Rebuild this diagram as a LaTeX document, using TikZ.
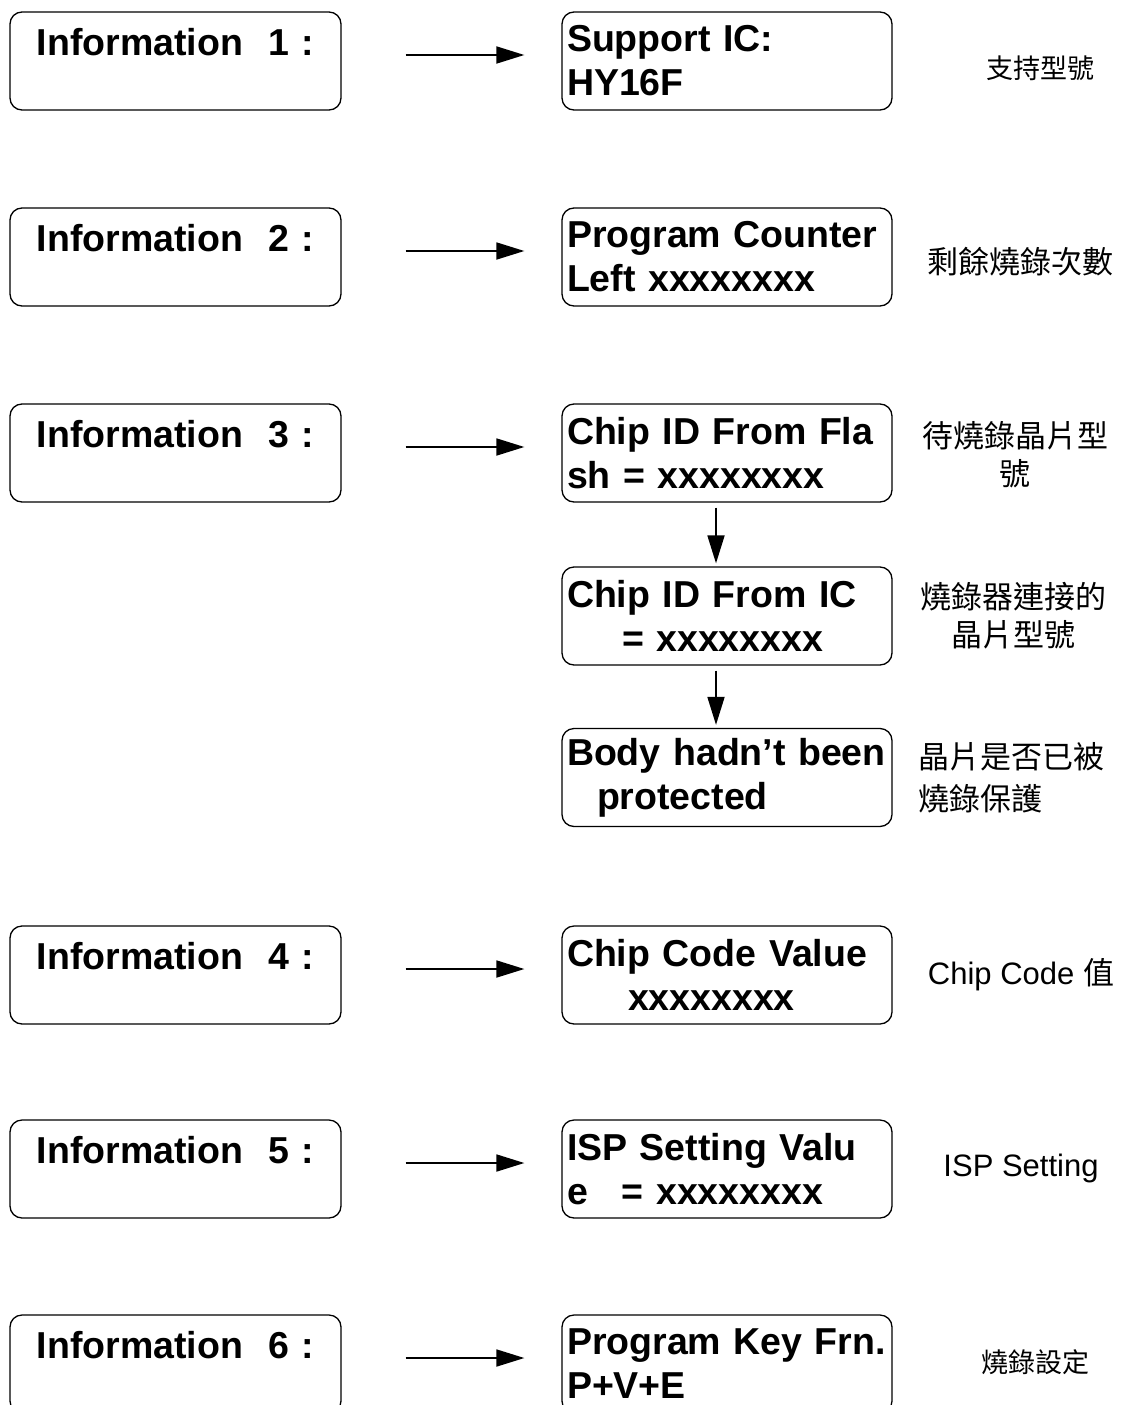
\documentclass[tikz,border=0pt]{standalone}
\usepackage{fontspec}
\setmainfont{Liberation Sans}
\newfontfamily\cjk{Noto Sans CJK TC}
\usepackage{tikz}
\usetikzlibrary{arrows.meta, positioning}
\tikzstyle{infobox} = [rectangle, rounded corners=12pt, minimum width=331pt, minimum height=98pt, inner xsep=5pt, text width=321pt, align=center, draw=black, line width=1.3pt, font=\bfseries\fontsize{37.5}{44}\selectfont]
\tikzstyle{valbox} = [rectangle, rounded corners=12pt, minimum width=330pt, minimum height=98pt, inner xsep=5pt, text width=320pt, align=left, draw=black, line width=1.3pt, font=\bfseries\fontsize{37.5}{44}\selectfont]
\tikzstyle{note} = [align=center, font=\fontsize{31}{38}\selectfont]
\tikzstyle{arrow} = [line width=1.8pt, -{Triangle[length=28pt, width=17pt]}]

\begin{document}
\begin{tikzpicture}[x=1pt, y=-1pt, node distance=196pt]
\useasboundingbox (0,0) rectangle (1121,1405);
\node (info1) [infobox] at (175.5,61) {Information~~1 :\\[-6pt]\mbox{}};
\node (info2) [infobox, below of=info1] {Information~~2 :\\[-6pt]\mbox{}};
\node (info3) [infobox, below of=info2] {Information~~3 :\\[-6pt]\mbox{}};
\node (info4) [infobox, below of=info3, yshift=-326pt] {Information~~4 :\\[-6pt]\mbox{}};
\node (info5) [infobox, below of=info4, yshift=2pt] {Information~~5 :\\[-6pt]\mbox{}};
\node (info6) [infobox, below of=info5, yshift=1pt] {Information~~6 :\\[-6pt]\mbox{}};
\node (val1) [valbox] at (727,61) {Support IC:\\HY16F};
\node (val2) [valbox, below of=val1] {Program Counter\\Left xxxxxxxx};
\node (val3) [valbox, below of=val2] {Chip ID From Fla\\sh = xxxxxxxx};
\node (chipic) [valbox, below of=val3, yshift=33pt] {Chip ID From IC\\\hspace*{55pt}= xxxxxxxx};
\node (body) [valbox, below of=chipic, yshift=34.5pt] {Body hadn't been\\\hspace*{30pt}protected};
\node (val4) [valbox, below of=val3, yshift=-326pt] {Chip Code Value\\\hspace*{61pt}xxxxxxxx};
\node (val5) [valbox, below of=val4, yshift=2pt] {ISP Setting Valu\\e\hspace*{34pt}= xxxxxxxx};
\node (val6) [valbox, below of=val5, yshift=1pt] {Program Key Frn.\\P+V+E};
\node (note1) [note, right of=val1, xshift=117pt, yshift=-7pt, font=\cjk\fontsize{27}{32}\selectfont] {支持型號};
\node (note2) [note, right of=val2, xshift=97pt, yshift=-5pt, font=\cjk\fontsize{31}{38}\selectfont] {剩餘燒錄次數};
\node (note3) [note, right of=val3, xshift=92pt, yshift=-2pt, font=\cjk\fontsize{31}{38}\selectfont] {待燒錄晶片型\\號};
\node (noteic) [note, right of=chipic, xshift=90pt, font=\cjk\fontsize{31}{38}\selectfont] {燒錄器連接的\\晶片型號};
\node (notebody) [note, right of=body, xshift=88pt, align=left, font=\cjk\fontsize{31}{42}\selectfont] {晶片是否已被\\燒錄保護};
\node (note4) [note, right of=val4, xshift=98pt] {Chip Code {\cjk 值}};
\node (note5) [note, right of=val5, xshift=98pt, yshift=1pt] {ISP Setting};
\node (note6) [note, right of=val6, xshift=112pt, yshift=2pt, font=\cjk\fontsize{27}{32}\selectfont] {燒錄設定};
\draw [arrow, shorten <=64pt, shorten >=37pt] ([yshift=6pt]info1.east) -- ([yshift=6pt]val1.west);
\draw [arrow, shorten <=64pt, shorten >=37pt] ([yshift=6pt]info2.east) -- ([yshift=6pt]val2.west);
\draw [arrow, shorten <=64pt, shorten >=37pt] ([yshift=6pt]info3.east) -- ([yshift=6pt]val3.west);
\draw [arrow, shorten <=64pt, shorten >=37pt] ([yshift=6pt]info4.east) -- ([yshift=6pt]val4.west);
\draw [arrow, shorten <=64pt, shorten >=37pt] ([yshift=6pt]info5.east) -- ([yshift=6pt]val5.west);
\draw [arrow, shorten <=64pt, shorten >=37pt] ([yshift=6pt]info6.east) -- ([yshift=6pt]val6.west);
\draw [arrow, shorten <=5pt, shorten >=3pt] ([xshift=-11pt]val3.south) -- ([xshift=-11pt]chipic.north);
\draw [arrow, shorten <=5pt, shorten >=3pt] ([xshift=-11pt]chipic.south) -- ([xshift=-11pt]body.north);
\end{tikzpicture}
\end{document}
